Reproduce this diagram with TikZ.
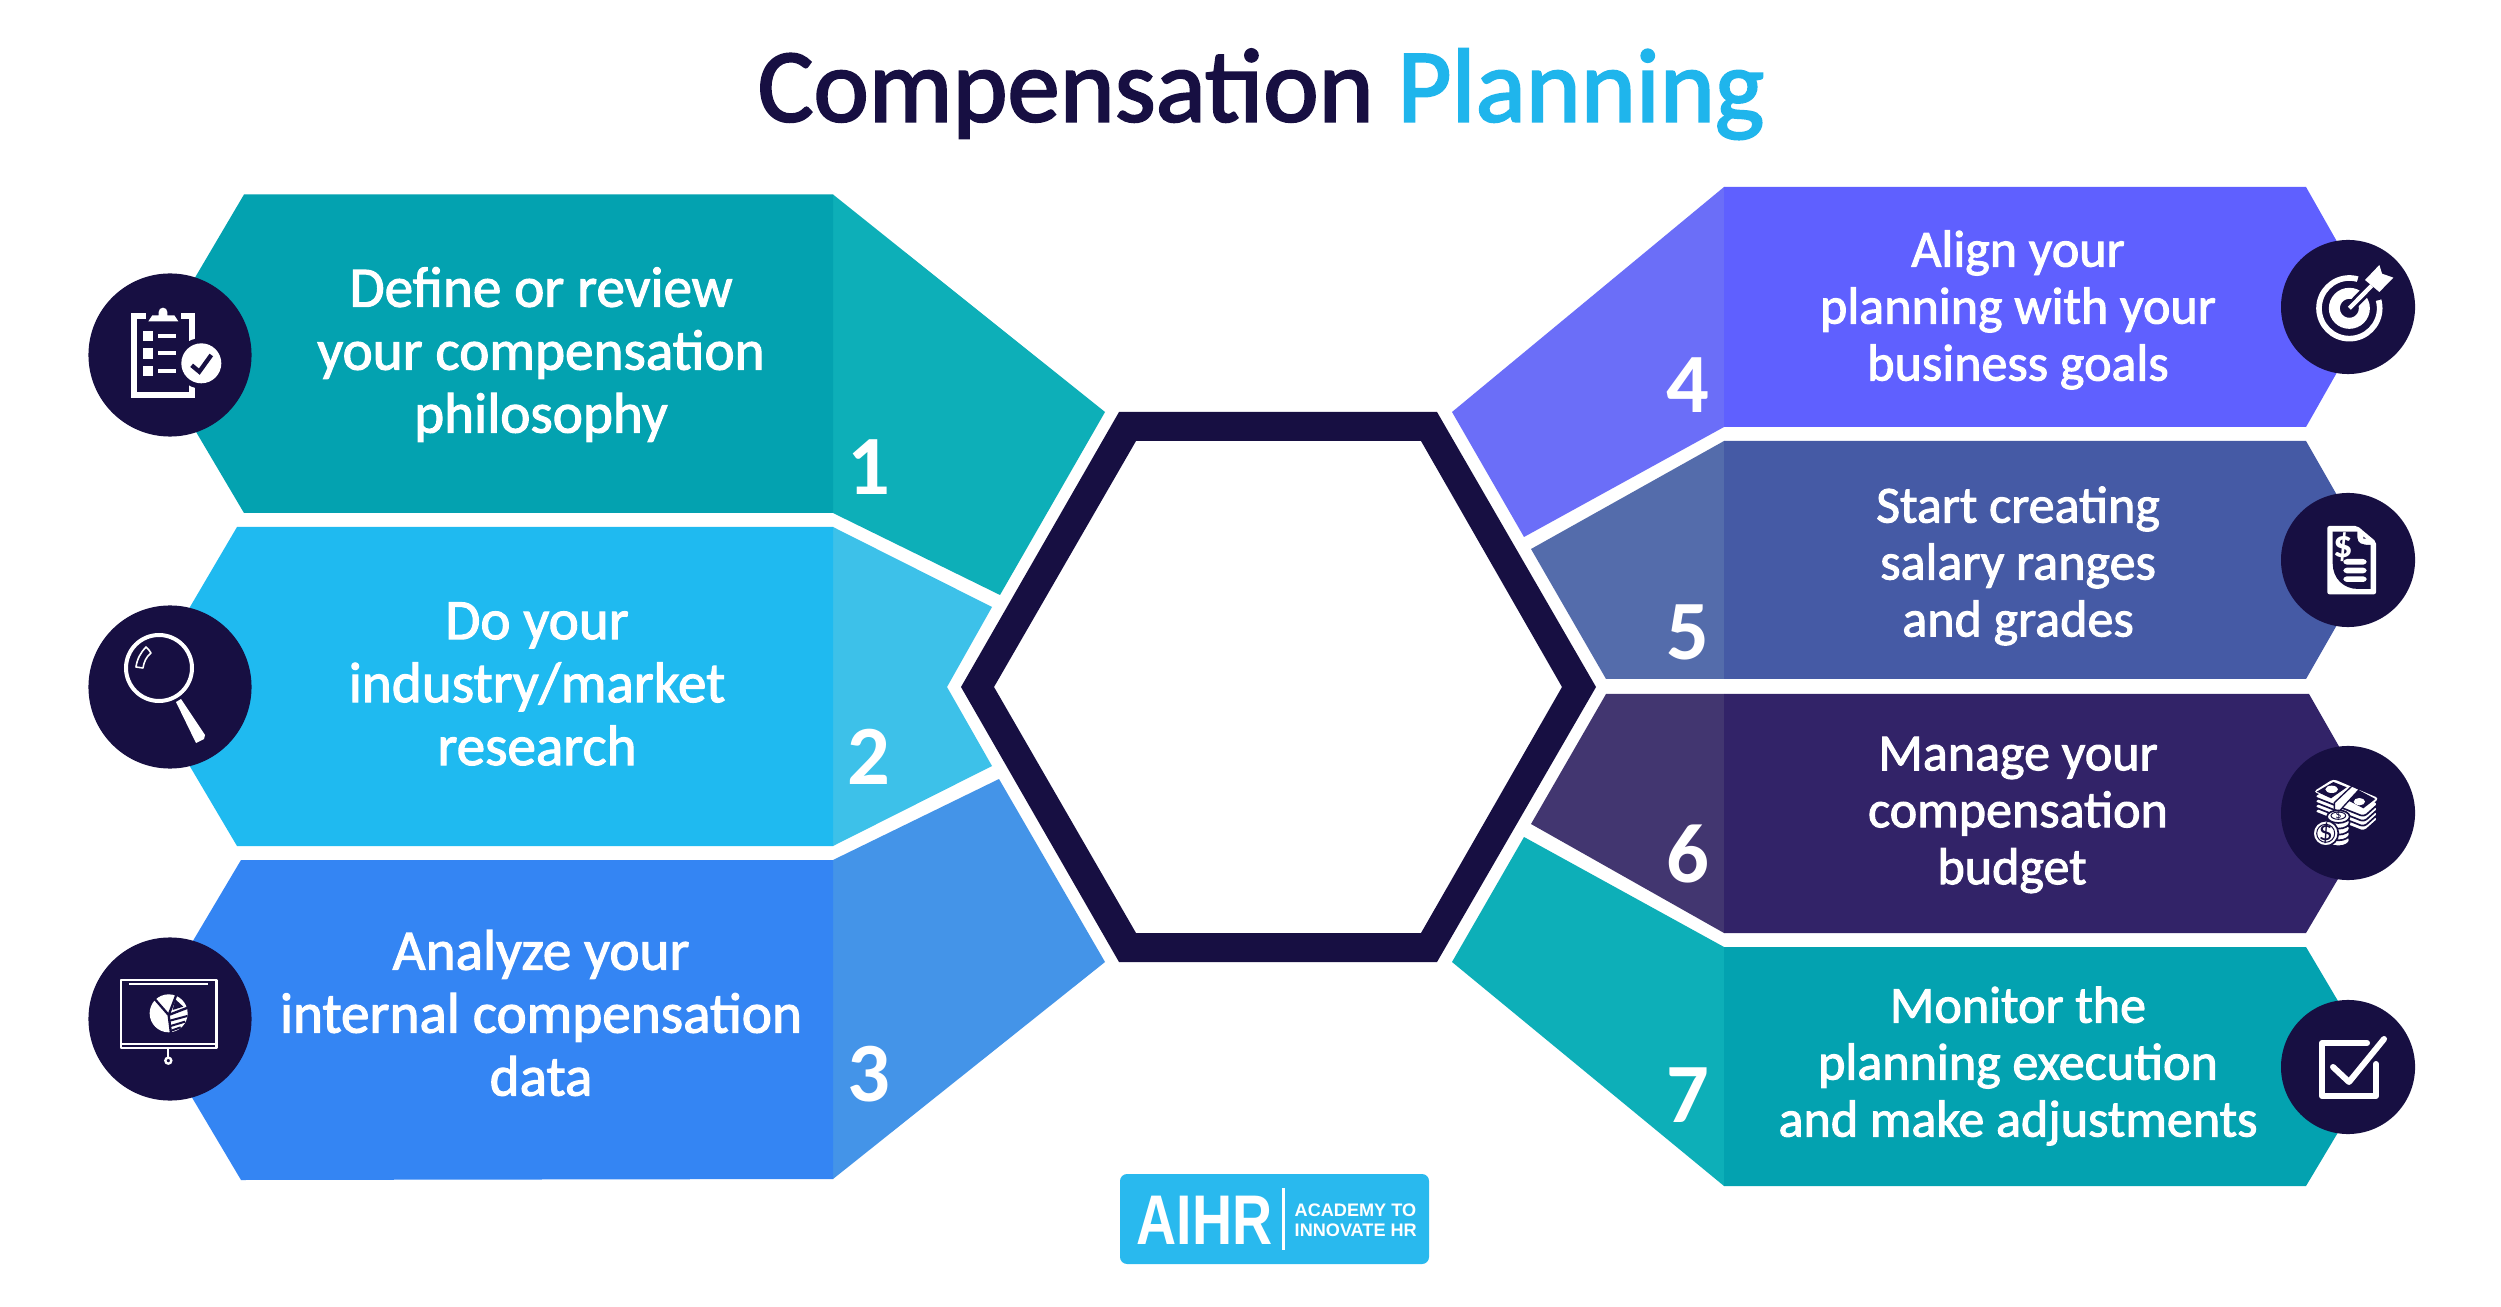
\documentclass[tikz,border=0pt]{standalone}
\usepackage{fontspec}
\setmainfont{Carlito}
\newfontfamily\bodyf{Carlito}[FakeBold=1.9]
\newfontfamily\numf{Carlito}[BoldFont=Carlito Bold]
\newfontfamily\titlef{Carlito}[FakeBold=2.0]
\newfontfamily\logof{Liberation Sans}
\newfontfamily\coinf{Carlito}
\definecolor{ink}{HTML}{170F42}
\definecolor{tealD}{HTML}{03A2B0}
\definecolor{tealL}{HTML}{0DAFB8}
\definecolor{skyD}{HTML}{1FBAF0}
\definecolor{skyL}{HTML}{3DC1E9}
\definecolor{azureD}{HTML}{3485F3}
\definecolor{azureL}{HTML}{4494E8}
\definecolor{violetD}{HTML}{5F60FF}
\definecolor{violetL}{HTML}{6B6EF8}
\definecolor{slateD}{HTML}{455AA5}
\definecolor{slateL}{HTML}{546CAB}
\definecolor{plumD}{HTML}{322368}
\definecolor{plumL}{HTML}{423670}
\definecolor{titleblue}{HTML}{1FB5EC}
\definecolor{logoblue}{HTML}{29B9EE}
\tikzset{
  x=0.01cm,y=-0.01cm,
  lefttext/.style={text=white,align=center,inner sep=0pt,font=\bodyf\fontsize{16.25}{17.9}\selectfont},
  righttext/.style={text=white,align=center,inner sep=0pt,font=\bodyf\fontsize{14.8}{16.2}\selectfont},
  numtext/.style={text=white,inner sep=0pt,font=\numf\bfseries\fontsize{24}{24}\selectfont},
  badge/.style={circle,fill=ink,draw=none,inner sep=0pt},
  leftbadge/.style={badge,minimum size=1.63cm},
  rightbadge/.style={badge,minimum size=1.34cm},
  zl/.style={line width=#1*0.0948pt},
  pl/.style={line width=#1*0.2845pt},
}
\begin{document}
\begin{tikzpicture}
\useasboundingbox (0,0) rectangle (2501,1307);
\fill[white] (0,0) rectangle (2501,1307);

% title
\node[anchor=base,inner sep=0pt,font=\titlef\fontsize{29.8}{32}\selectfont] (title) at (1261,121.5)
  {\textcolor{ink}{Compensation} \textcolor{titleblue}{Planning}};

% left ribbons
\fill[tealL] (833,194.5) -- (1105,412) -- (1000,595) -- (833,513) -- cycle;
\fill[tealD] (244,194.5) -- (833,194.5) -- (833,513) -- (244,513) -- (150,354) -- cycle;
\fill[skyL] (833,527) -- (992,607) -- (947,687) -- (992,766) -- (833,846) -- cycle;
\fill[skyD] (237,527) -- (833,527) -- (833,846) -- (237,846) -- (143,687) -- cycle;
\fill[azureL] (833,860) -- (999,779) -- (1105,962) -- (833,1179) -- cycle;
\fill[azureD] (241,860) -- (833,860) -- (833,1179) -- (241,1180) -- (146,1020) -- cycle;

% right ribbons
\fill[violetL] (1724,187) -- (1452,412) -- (1524,537) -- (1724,427) -- cycle;
\fill[violetD] (1724,187) -- (2306,187) -- (2374,307) -- (2306,427) -- (1724,427) -- cycle;
\fill[slateL] (1724,441) -- (1531,549) -- (1606,679) -- (1724,679) -- cycle;
\fill[slateD] (1724,441) -- (2306,441) -- (2374,560) -- (2306,679) -- (1724,679) -- cycle;
\fill[plumL] (1606,694) -- (1531,824) -- (1724,933) -- (1724,694) -- cycle;
\fill[plumD] (1724,694) -- (2309,694) -- (2377,813) -- (2306,933) -- (1724,933) -- cycle;
\fill[tealL] (1724,947) -- (1524,837) -- (1452,962) -- (1724,1186) -- cycle;
\fill[tealD] (1724,947) -- (2306,947) -- (2377,1067) -- (2306,1186) -- (1724,1186) -- cycle;

% central hexagon
\fill[ink,even odd rule] (961,687) -- (1119,412) -- (1437,412) -- (1596,687) -- (1437,962) -- (1119,962) -- cycle
  (994,687) -- (1136,441) -- (1421,441) -- (1562,687) -- (1421,933) -- (1136,933) -- cycle;

% texts
\node[lefttext] (t1) at (541,354.5) {Define or review\\your compensation\\philosophy};
\node[lefttext] (t2) at (537,684) {Do your\\industry/market\\research};
\node[lefttext] (t3) at (541,1013) {Analyze your\\internal compensation\\data};
\node[righttext] (t4) at (2018,310) {Align your\\planning with your\\business goals};
\node[righttext] (t5) at (2018,566) {Start creating\\salary ranges\\and grades};
\node[righttext] (t6) at (2018,815) {Manage your\\compensation\\budget\hspace*{0.12cm}};
\node[righttext] (t7) at (2018,1066) {Monitor the\\planning execution\\and make adjustments};

% numbers
\node[numtext] (n1) at (869,467) {1};
\node[numtext] (n2) at (869,757) {2};
\node[numtext] (n3) at (869,1074) {3};
\node[numtext] (n4) at (1688,385) {4};
\node[numtext] (n5) at (1688,632) {5};
\node[numtext] (n6) at (1688,854) {6};
\node[numtext] (n7) at (1688,1095) {7};

% badges
\node[leftbadge] (b1) at (170,355) {};
\node[leftbadge] (b2) at (170,687) {};
\node[leftbadge] (b3) at (170,1019) {};
\node[rightbadge] (b4) at (2348,307) {};
\node[rightbadge] (b5) at (2348,560) {};
\node[rightbadge] (b6) at (2348,813) {};
\node[rightbadge] (b7) at (2348,1067) {};

% icon 1: clipboard
\begin{scope}[shift={(70,260)},scale=0.3333]
  \fill[white] (183,158) rectangle (375,413);
  \fill[ink] (200,176) rectangle (358,396);
  \fill[ink] (228,150) rectangle (332,190);
  \fill[white] (235,184) -- (247,166) -- (266,166) -- (266,156) arc[start angle=180,end angle=360,radius=13] -- (292,166) -- (313,166) -- (325,184) -- cycle;
  \foreach \r in {213,265,317}{
    \fill[white] (218,\r) rectangle (250,\r+31);
    \fill[white] (263,\r+9) rectangle (317,\r+21);
  }
  \fill[ink] (394,310) circle (76);
  \fill[white] (394,310) circle (60);
  \draw[ink,zl=13] (365,316) -- (388,335) -- (424,285);
\end{scope}

% icon 2: magnifier
\draw[white,pl=4] (159,668) circle (33);
\fill[white] (176,702) -- (181,699) -- (205,735) -- (204,739) -- (196,743) -- cycle;
\draw[white,pl=1.6,line join=round] (146,647) .. controls (148,649) and (150,651) .. (151,653) .. controls (146,657) and (144,662) .. (143,668) -- (136,667) .. controls (137,659) and (141,652) .. (146,647) -- cycle;

% icon 3: presentation with pie
\begin{scope}[shift={(70,920)},scale=0.3333]
  \draw[white,zl=7,line join=round] (153,180) rectangle (440,384);
  \draw[white,zl=7] (153,372) -- (440,372);
  \draw[white,zl=7] (177,192) -- (413,192);
  \draw[white,zl=6] (295,386) -- (295,412);
  \draw[white,zl=7] (295,422) circle (9);
  \fill[white] (296,280) circle (57);
  \draw[ink,zl=7] (255,238) -- (296,285) -- (303,340);
  \draw[ink,zl=7] (296,285) -- (320,222);
  \draw[ink,zl=7] (296,285) -- (356,262);
  \fill[ink] (316,238) -- (340,260) -- (308,270) -- cycle;
  \draw[ink,zl=6] (300,302) -- (352,288);
  \draw[ink,zl=6] (302,318) -- (345,305);
  \draw[ink,zl=6] (304,332) -- (332,322);
\end{scope}

% icon 4: target with arrow
\begin{scope}[shift={(2270,230)},scale=0.3333]
  \draw[white,zl=17] (238,235) circle (91);
  \fill[ink] (238,235) -- (280,90) -- (380,195) -- cycle;
  \draw[white,zl=33] (238,235) circle (45);
  \draw[ink,zl=30] (238,235) -- (300,172);
  \draw[white,zl=13] (238,235) -- (305,167);
  \fill[white] (285,150) -- (328,105) -- (336,131) -- (370,143) -- (328,186) -- cycle;
\end{scope}

% icon 5: document with dollar sign
\begin{scope}[shift={(2270,480)},scale=0.3333]
  \fill[white,rounded corners=0.6pt] (172,138) -- (262,138) -- (318,185) -- (318,343) -- (172,343) -- cycle;
  \fill[ink] (188,155) -- (262,155) -- (262,172) .. controls (262,190) and (275,195) .. (302,195) -- (302,327) -- (265,327) .. controls (220,327) and (188,295) .. (188,250) -- cycle;
  \fill[ink] (280,170) -- (288,176) -- (280,176) -- cycle;
  \node[text=white,inner sep=0pt,font=\numf\bfseries\fontsize{11}{11}\selectfont] (dollar5) at (220,200) {\$};
  \foreach \r in {237,263,289}{
    \fill[white,rounded corners=1pt] (220,\r) rectangle (290,\r+17);
  }
\end{scope}

% icon 6: notes and coins
\begin{scope}[shift={(2270,730)},scale=0.3333]
  \foreach \d in {60,45,30,15}{
    \fill[white,draw=ink,zl=5,rounded corners=1pt] (130,185+\d) -- (190,147+\d) -- (327,205+\d) -- (282,245+\d) -- cycle;
  }
  \fill[white,rounded corners=1pt] (130,185) -- (190,147) -- (327,205) -- (282,245) -- cycle;
  \fill[ink] (140,185) -- (190,156) -- (230,172) -- (183,205) -- cycle;
  \fill[white] (185,178) ellipse (19 and 11);
  \fill[ink] (222,205) -- (262,178) -- (316,207) -- (280,235) -- cycle;
  \fill[white] (268,215) ellipse (17 and 11);
  \fill[white,draw=ink,zl=4] (193,218) -- (246,168) -- (268,178) -- (220,230) -- (207,245) -- (193,238) -- cycle;
  \foreach \d in {70,52,35,17,0}{
    \fill[white,draw=ink,zl=5] (205,260+\d) ellipse (34 and 19);
  }
  \draw[ink,zl=3] (205,257) ellipse (22 and 11);
  \node[text=ink,inner sep=0pt,font=\coinf\fontsize{3.5}{3.5}\selectfont] (dollar6a) at (205,257) {\$};
  \fill[white,draw=ink,zl=5] (167,310) circle (38);
  \draw[ink,zl=3] (167,310) circle (27);
  \node[text=ink,inner sep=0pt,font=\coinf\fontsize{8}{8}\selectfont] (dollar6b) at (167,310) {\$};
\end{scope}

% icon 7: checked box
\draw[white,pl=6,line join=round,line cap=round] (2367,1043) -- (2322,1043) -- (2322,1096) -- (2376,1096) -- (2376,1064);
\draw[white,pl=6,line join=round,line cap=round] (2333,1067) -- (2349,1082) -- (2384,1039);

% logo
\fill[logoblue,rounded corners=2pt] (1120,1174) rectangle (1429,1264);
\node[inner sep=0pt,text=white,anchor=base west,xscale=0.79,font=\logof\bfseries\fontsize{20}{20}\selectfont] (aihr) at (1136,1244) {AIHR};
\draw[white,pl=3] (1283,1188) -- (1283,1250);
\node[inner sep=0pt,text=white,anchor=base west,font=\logof\bfseries\fontsize{5.15}{5.15}\selectfont] (aca) at (1294,1216) {ACADEMY TO};
\node[inner sep=0pt,text=white,anchor=base west,font=\logof\bfseries\fontsize{5.15}{5.15}\selectfont] (inn) at (1294,1236) {INNOVATE HR};
\end{tikzpicture}
\end{document}
